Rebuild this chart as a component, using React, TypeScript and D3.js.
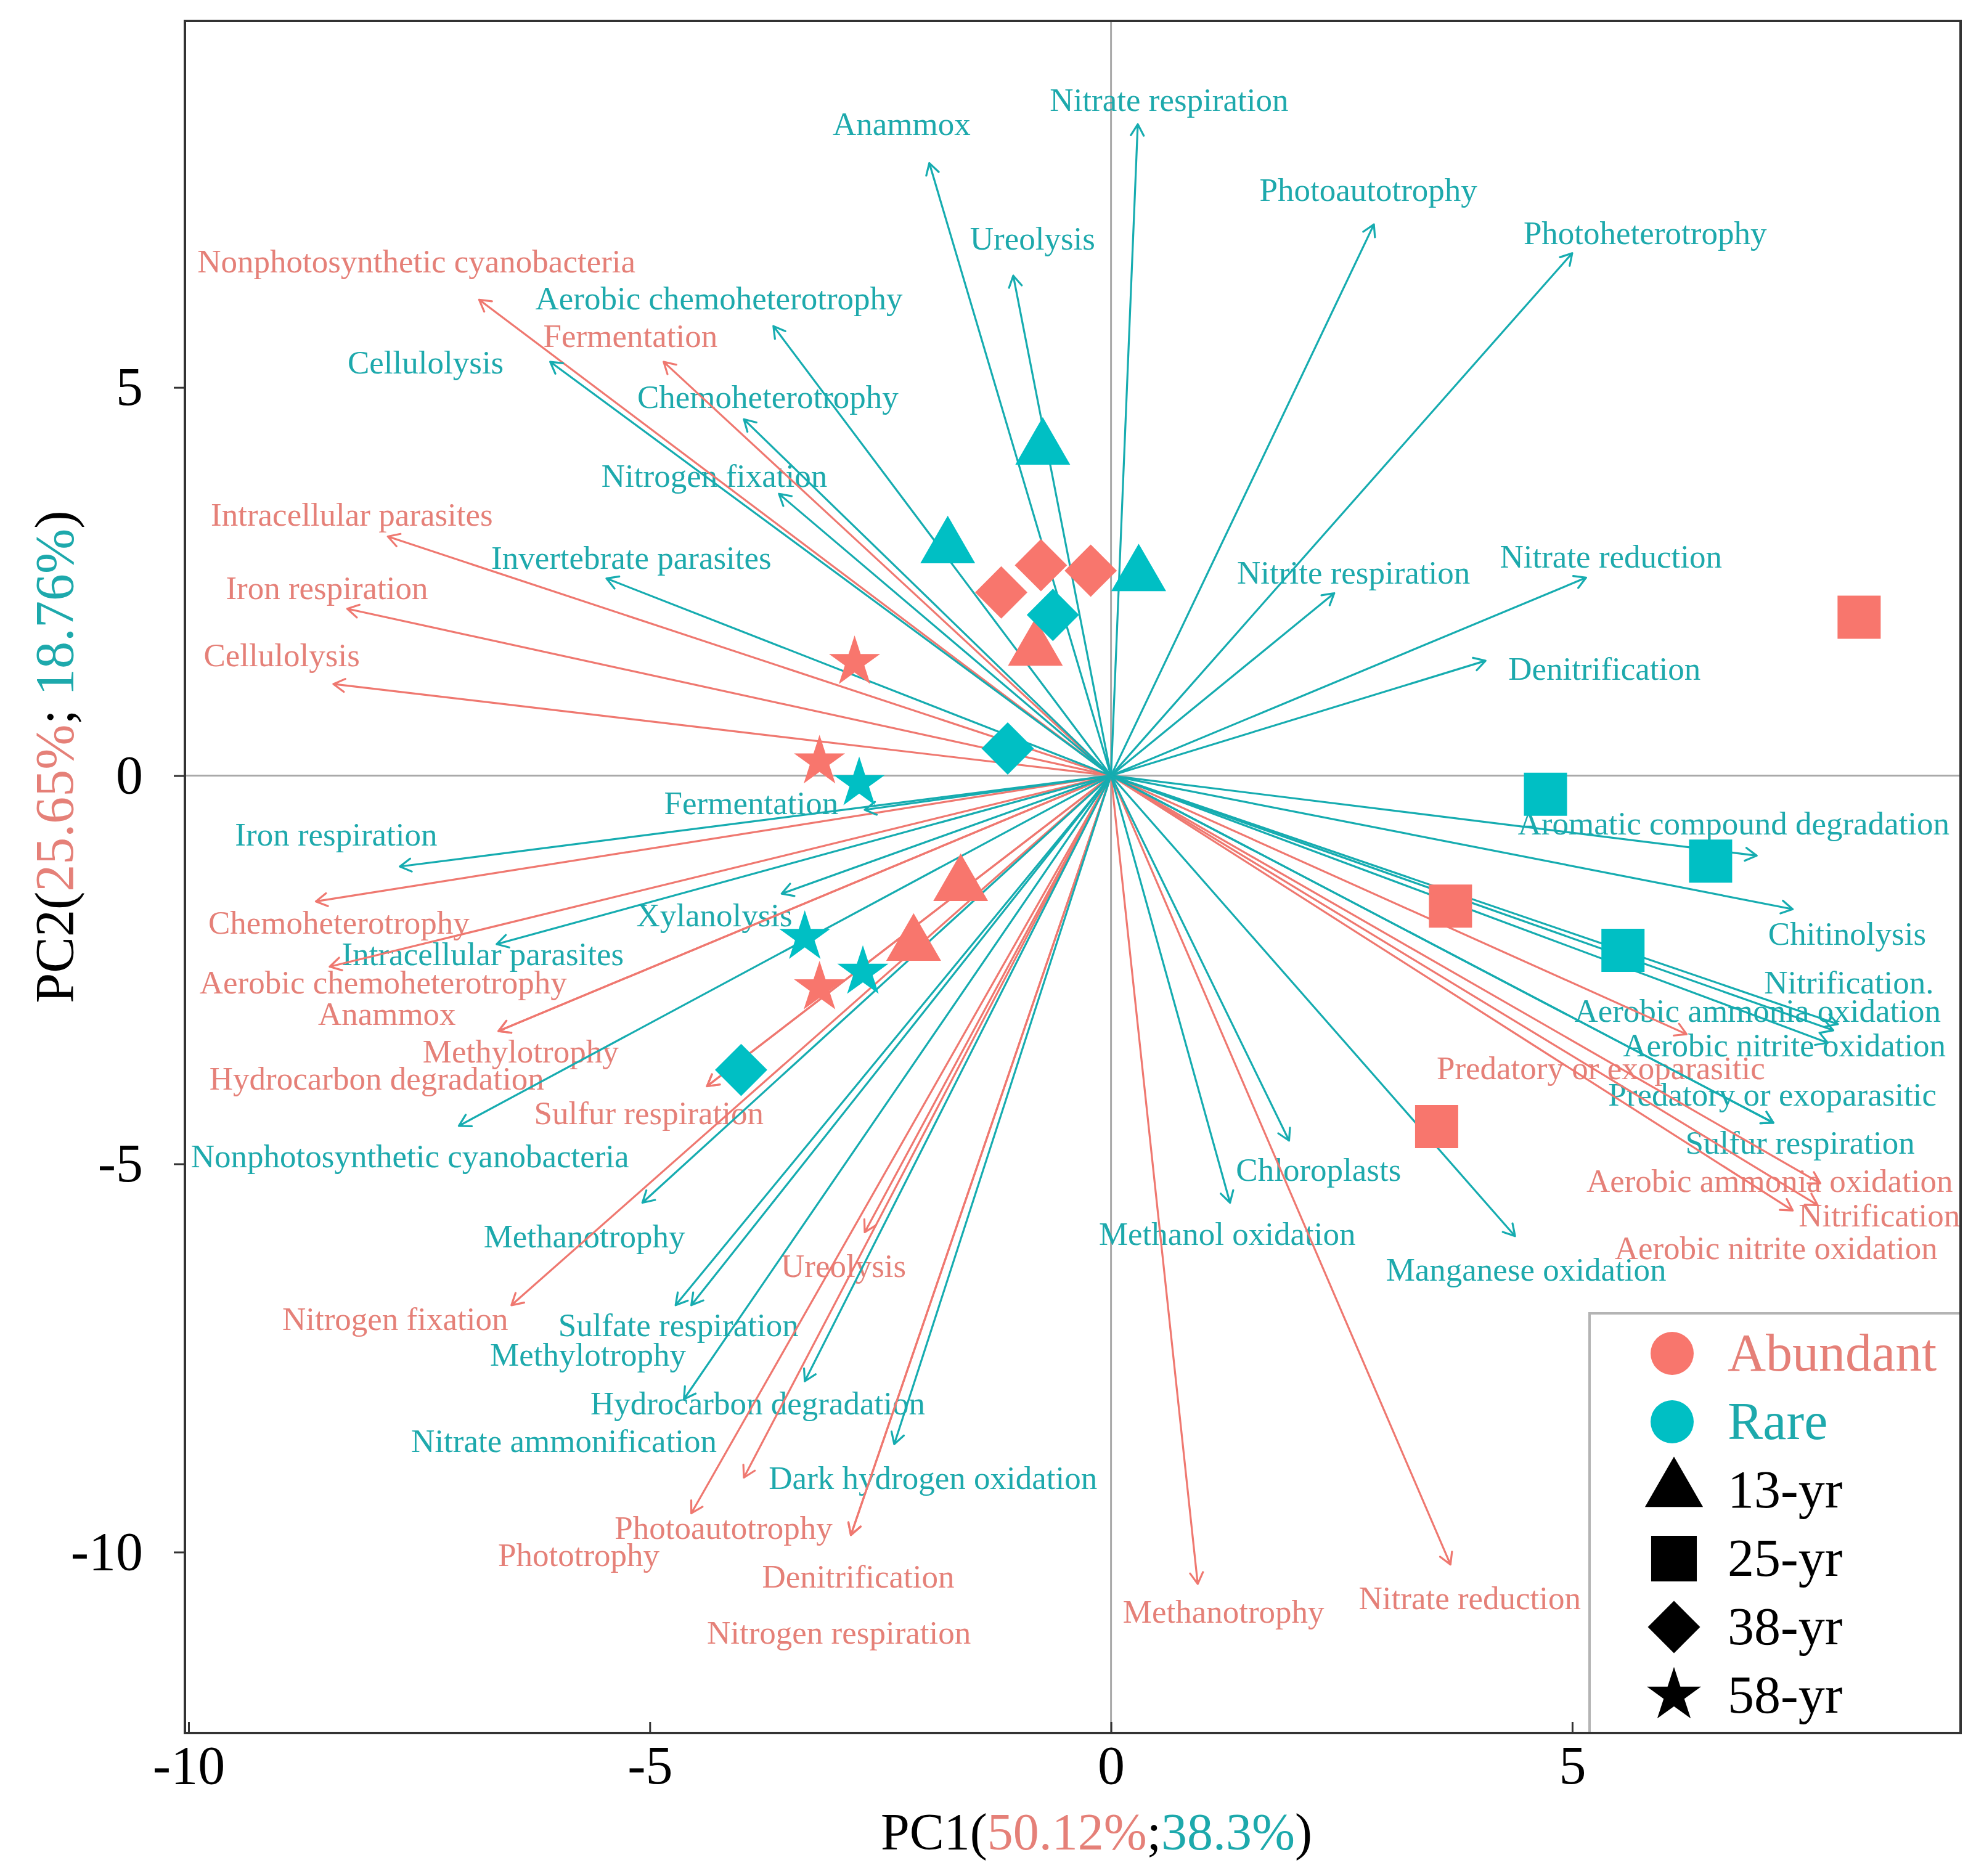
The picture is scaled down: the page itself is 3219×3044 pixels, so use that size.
import React, { useEffect, useRef } from 'react';
import * as d3 from 'd3';

interface FuncVector {
  name: string;
  pc1: number; // arrow tip
  pc2: number;
  labX: number; // label position (data units)
  labY: number;
}

interface Sample {
  group: string;
  age: string;
  pc1: number;
  pc2: number;
}

// Rare community functions (teal arrows)
const rareVectors: FuncVector[] = [
  { name: 'Anammox', pc1: -1.97, pc2: 7.89, labX: -2.27, labY: 8.4 },
  { name: 'Nitrate respiration', pc1: 0.29, pc2: 8.39, labX: 0.63, labY: 8.71 },
  { name: 'Ureolysis', pc1: -1.06, pc2: 6.44, labX: -0.85, labY: 6.92 },
  { name: 'Photoautotrophy', pc1: 2.85, pc2: 7.1, labX: 2.79, labY: 7.55 },
  { name: 'Photoheterotrophy', pc1: 5.0, pc2: 6.73, labX: 5.79, labY: 6.99 },
  { name: 'Aerobic chemoheterotrophy', pc1: -3.66, pc2: 5.79, labX: -4.25, labY: 6.15 },
  { name: 'Cellulolysis', pc1: -6.08, pc2: 5.33, labX: -7.43, labY: 5.33 },
  { name: 'Chemoheterotrophy', pc1: -3.98, pc2: 4.59, labX: -3.72, labY: 4.88 },
  { name: 'Nitrogen fixation', pc1: -3.6, pc2: 3.63, labX: -4.3, labY: 3.87 },
  { name: 'Invertebrate parasites', pc1: -5.47, pc2: 2.54, labX: -5.2, labY: 2.81 },
  { name: 'Nitrite respiration', pc1: 2.42, pc2: 2.35, labX: 2.63, labY: 2.62 },
  { name: 'Nitrate reduction', pc1: 5.15, pc2: 2.55, labX: 5.42, labY: 2.83 },
  { name: 'Denitrification', pc1: 4.06, pc2: 1.48, labX: 5.35, labY: 1.38 },
  { name: 'Fermentation', pc1: -2.67, pc2: -0.44, labX: -3.9, labY: -0.35 },
  { name: 'Iron respiration', pc1: -7.71, pc2: -1.17, labX: -8.4, labY: -0.75 },
  { name: 'Xylanolysis', pc1: -3.57, pc2: -1.52, labX: -4.3, labY: -1.79 },
  { name: 'Intracellular parasites', pc1: -6.66, pc2: -2.17, labX: -6.81, labY: -2.29 },
  { name: 'Nonphotosynthetic cyanobacteria', pc1: -7.07, pc2: -4.51, labX: -7.6, labY: -4.9 },
  { name: 'Methanotrophy', pc1: -5.08, pc2: -5.5, labX: -5.71, labY: -5.93 },
  { name: 'Sulfate respiration', pc1: -4.72, pc2: -6.82, labX: -4.69, labY: -7.07 },
  { name: 'Methylotrophy', pc1: -4.55, pc2: -6.82, labX: -5.67, labY: -7.45 },
  { name: 'Hydrocarbon degradation', pc1: -3.32, pc2: -7.8, labX: -3.83, labY: -8.08 },
  { name: 'Nitrate ammonification', pc1: -4.63, pc2: -8.03, labX: -5.93, labY: -8.56 },
  { name: 'Dark hydrogen oxidation', pc1: -2.35, pc2: -8.61, labX: -1.93, labY: -9.04 },
  { name: 'Chloroplasts', pc1: 1.93, pc2: -4.7, labX: 2.25, labY: -5.07 },
  { name: 'Methanol oxidation', pc1: 1.29, pc2: -5.5, labX: 1.26, labY: -5.9 },
  { name: 'Manganese oxidation', pc1: 4.38, pc2: -5.93, labX: 4.5, labY: -6.36 },
  { name: 'Aromatic compound degradation', pc1: 7.0, pc2: -1.03, labX: 6.75, labY: -0.61 },
  { name: 'Chitinolysis', pc1: 7.39, pc2: -1.72, labX: 7.98, labY: -2.03 },
  { name: 'Nitrification.', pc1: 7.88, pc2: -3.2, labX: 8.0, labY: -2.66 },
  { name: 'Aerobic ammonia oxidation', pc1: 7.83, pc2: -3.28, labX: 7.01, labY: -3.02 },
  { name: 'Aerobic nitrite oxidation', pc1: 7.77, pc2: -3.44, labX: 7.3, labY: -3.47 },
  { name: 'Predatory or exoparasitic', pc1: 7.18, pc2: -4.47, labX: 7.17, labY: -4.1 },
  { name: 'Sulfur respiration', pc1: 7.18, pc2: -4.47, labX: 7.47, labY: -4.72 },
];

// Abundant community functions (red arrows)
const abundantVectors: FuncVector[] = [
  { name: 'Nonphotosynthetic cyanobacteria', pc1: -6.85, pc2: 6.13, labX: -7.53, labY: 6.63 },
  { name: 'Fermentation', pc1: -4.85, pc2: 5.33, labX: -5.21, labY: 5.67 },
  { name: 'Intracellular parasites', pc1: -7.84, pc2: 3.08, labX: -8.23, labY: 3.37 },
  { name: 'Iron respiration', pc1: -8.28, pc2: 2.15, labX: -8.5, labY: 2.42 },
  { name: 'Cellulolysis', pc1: -8.43, pc2: 1.18, labX: -8.99, labY: 1.56 },
  { name: 'Chemoheterotrophy', pc1: -8.62, pc2: -1.62, labX: -8.37, labY: -1.89 },
  { name: 'Aerobic chemoheterotrophy', pc1: -8.47, pc2: -2.46, labX: -7.89, labY: -2.66 },
  { name: 'Anammox', pc1: -6.64, pc2: -3.29, labX: -7.85, labY: -3.06 },
  { name: 'Methylotrophy', pc1: -6.64, pc2: -3.29, labX: -6.4, labY: -3.55 },
  { name: 'Hydrocarbon degradation', pc1: -4.38, pc2: -4.0, labX: -7.96, labY: -3.9 },
  { name: 'Sulfur respiration', pc1: -4.38, pc2: -4.0, labX: -5.01, labY: -4.34 },
  { name: 'Nitrogen fixation', pc1: -6.5, pc2: -6.82, labX: -7.76, labY: -6.99 },
  { name: 'Ureolysis', pc1: -2.67, pc2: -5.88, labX: -2.9, labY: -6.31 },
  { name: 'Photoautotrophy', pc1: -4.55, pc2: -9.5, labX: -4.2, labY: -9.68 },
  { name: 'Phototrophy', pc1: -3.98, pc2: -9.04, labX: -5.77, labY: -10.03 },
  { name: 'Denitrification', pc1: -2.82, pc2: -9.78, labX: -2.74, labY: -10.31 },
  { name: 'Nitrogen respiration', pc1: -2.82, pc2: -9.78, labX: -2.95, labY: -11.03 },
  { name: 'Methanotrophy', pc1: 0.94, pc2: -10.41, labX: 1.22, labY: -10.76 },
  { name: 'Nitrate reduction', pc1: 3.68, pc2: -10.16, labX: 3.89, labY: -10.59 },
  { name: 'Predatory or exoparasitic', pc1: 6.24, pc2: -3.33, labX: 5.31, labY: -3.76 },
  { name: 'Aerobic ammonia oxidation', pc1: 7.69, pc2: -5.25, labX: 7.14, labY: -5.21 },
  { name: 'Nitrification', pc1: 7.39, pc2: -5.6, labX: 8.33, labY: -5.66 },
  { name: 'Aerobic nitrite oxidation', pc1: 7.66, pc2: -5.53, labX: 7.21, labY: -6.08 },
];

const abundantSamples: Sample[] = [
  { group: 'Abundant', age: '13-yr', pc1: -0.82, pc2: 1.62 },
  { group: 'Abundant', age: '13-yr', pc1: -1.63, pc2: -1.41 },
  { group: 'Abundant', age: '13-yr', pc1: -2.14, pc2: -2.18 },
  { group: 'Abundant', age: '25-yr', pc1: 8.11, pc2: 2.04 },
  { group: 'Abundant', age: '25-yr', pc1: 3.68, pc2: -1.68 },
  { group: 'Abundant', age: '25-yr', pc1: 3.53, pc2: -4.52 },
  { group: 'Abundant', age: '38-yr', pc1: -0.76, pc2: 2.71 },
  { group: 'Abundant', age: '38-yr', pc1: -0.22, pc2: 2.64 },
  { group: 'Abundant', age: '38-yr', pc1: -1.19, pc2: 2.36 },
  { group: 'Abundant', age: '58-yr', pc1: -2.78, pc2: 1.46 },
  { group: 'Abundant', age: '58-yr', pc1: -3.16, pc2: 0.18 },
  { group: 'Abundant', age: '58-yr', pc1: -3.16, pc2: -2.73 },
];

const rareSamples: Sample[] = [
  { group: 'Rare', age: '13-yr', pc1: -0.74, pc2: 4.21 },
  { group: 'Rare', age: '13-yr', pc1: -1.77, pc2: 2.94 },
  { group: 'Rare', age: '13-yr', pc1: 0.3, pc2: 2.58 },
  { group: 'Rare', age: '25-yr', pc1: 4.71, pc2: -0.24 },
  { group: 'Rare', age: '25-yr', pc1: 6.5, pc2: -1.1 },
  { group: 'Rare', age: '25-yr', pc1: 5.55, pc2: -2.25 },
  { group: 'Rare', age: '38-yr', pc1: -0.63, pc2: 2.07 },
  { group: 'Rare', age: '38-yr', pc1: -1.12, pc2: 0.35 },
  { group: 'Rare', age: '38-yr', pc1: -4.01, pc2: -3.79 },
  { group: 'Rare', age: '58-yr', pc1: -2.73, pc2: -0.1 },
  { group: 'Rare', age: '58-yr', pc1: -3.32, pc2: -2.08 },
  { group: 'Rare', age: '58-yr', pc1: -2.69, pc2: -2.53 },
];

const groups = ['Abundant', 'Rare'];
const ages = ['13-yr', '25-yr', '38-yr', '58-yr'];
const xTicks = [-10, -5, 0, 5];
const yTicks = [5, 0, -5, -10];

const RED = '#F8766D';
const TEAL = '#00BFC4';
const RED_LINE = '#EF7870';
const TEAL_LINE = '#16ACB0';
const RED_TEXT = '#E58078';
const TEAL_TEXT = '#1DA9AC';
const FONT = "'Liberation Serif', 'Times New Roman', serif";

// shape path for a sample age; scale enlarges it for the legend
const shapePath = (age: string, scale = 1): string => {
  if (age === '13-yr') return d3.symbol(d3.symbolTriangle, 3430 * scale)()!;
  if (age === '25-yr') return d3.symbol(d3.symbolSquare, 4900 * scale)()!;
  if (age === '38-yr') return d3.symbol(d3.symbolSquare, 3600 * scale)()!;
  return d3.symbol(d3.symbolStar, 2134 * scale)()!;
};

const App: React.FC = () => {
  const svgRef = useRef<SVGSVGElement | null>(null);

  useEffect(() => {
    document.body.style.margin = '0';
    if (!svgRef.current) return;

    const width = 3219;
    const height = 3044;
    const left = 300;
    const right = 3181;
    const top = 34;
    const bottom = 2812;

    const svg = d3.select(svgRef.current)
      .attr('width', width)
      .attr('height', height)
      .attr('viewBox', `0 0 ${width} ${height}`)
      .style('display', 'block')
      .style('font-family', FONT);

    svg.selectAll('*').remove();

    const x = d3.scaleLinear().domain([-10.04, 9.21]).range([left, right]);
    const y = d3.scaleLinear().domain([9.72, -12.33]).range([top, bottom]);
    const color = d3.scaleOrdinal<string>().domain(groups).range([RED, TEAL]);

    svg.append('rect').attr('width', width).attr('height', height).attr('fill', '#fff');

    // zero reference lines
    svg.append('line')
      .attr('x1', x(0)).attr('x2', x(0)).attr('y1', top).attr('y2', bottom)
      .attr('stroke', '#A9A9A9').attr('stroke-width', 3);
    svg.append('line')
      .attr('x1', left).attr('x2', right).attr('y1', y(0)).attr('y2', y(0))
      .attr('stroke', '#A9A9A9').attr('stroke-width', 3);

    // labels first, arrows drawn over them
    const drawLabels = (data: FuncVector[], fill: string) => {
      svg.append('g')
        .attr('font-size', 53)
        .attr('fill', fill)
        .attr('text-anchor', 'middle')
        .selectAll('text')
        .data(data)
        .join('text')
        .attr('x', d => x(d.labX))
        .attr('y', d => y(d.labY))
        .attr('dy', '0.35em')
        .text(d => d.name);
    };
    drawLabels(abundantVectors, RED_TEXT);
    drawLabels(rareVectors, TEAL_TEXT);

    const arrowPath = (d: FuncVector) => {
      const x0 = x(0), y0 = y(0), x1 = x(d.pc1), y1 = y(d.pc2);
      const a = Math.atan2(y1 - y0, x1 - x0);
      const head = 21;
      const spread = Math.PI / 6;
      const p = d3.path();
      p.moveTo(x0, y0);
      p.lineTo(x1, y1);
      p.moveTo(x1 - head * Math.cos(a - spread), y1 - head * Math.sin(a - spread));
      p.lineTo(x1, y1);
      p.lineTo(x1 - head * Math.cos(a + spread), y1 - head * Math.sin(a + spread));
      return p.toString();
    };

    const drawArrows = (data: FuncVector[], stroke: string) => {
      svg.append('g')
        .selectAll('path')
        .data(data)
        .join('path')
        .attr('d', arrowPath)
        .attr('fill', 'none')
        .attr('stroke', stroke)
        .attr('stroke-width', 3.2)
        .attr('stroke-linecap', 'round')
        .attr('stroke-linejoin', 'round');
    };
    drawArrows(abundantVectors, RED_LINE);
    drawArrows(rareVectors, TEAL_LINE);

    // sample points
    const drawPoints = (data: Sample[]) => {
      svg.append('g')
        .selectAll('path')
        .data(data)
        .join('path')
        .attr('d', d => shapePath(d.age))
        .attr('transform', d =>
          `translate(${x(d.pc1)},${y(d.pc2)})${d.age === '38-yr' ? ' rotate(45)' : ''}`)
        .attr('fill', d => color(d.group));
    };
    drawPoints(abundantSamples);
    drawPoints(rareSamples);

    // legend
    const legendItems = [...groups, ...ages];
    const ly = d3.scalePoint<string>().domain(legendItems).range([2196, 2751]);
    const legend = svg.append('g');
    legend.append('rect')
      .attr('x', 2579).attr('y', 2131)
      .attr('width', right - 2579).attr('height', bottom - 2131)
      .attr('fill', '#fff').attr('stroke', '#B4B4B4').attr('stroke-width', 4);
    groups.forEach(g => {
      legend.append('circle')
        .attr('cx', 2713).attr('cy', ly(g)!).attr('r', 35)
        .attr('fill', color(g));
      legend.append('text')
        .attr('x', 2803).attr('y', ly(g)!).attr('dy', '0.33em')
        .attr('font-size', 86)
        .attr('fill', g === 'Abundant' ? RED_TEXT : TEAL_TEXT)
        .text(g);
    });
    ages.forEach(a => {
      legend.append('path')
        .attr('d', shapePath(a, a === '38-yr' ? 1.0 : 1.12))
        .attr('transform', `translate(2716,${ly(a)})${a === '38-yr' ? ' rotate(45)' : ''}`)
        .attr('fill', '#000');
      legend.append('text')
        .attr('x', 2803).attr('y', ly(a)!).attr('dy', '0.33em')
        .attr('font-size', 86)
        .attr('fill', '#000')
        .text(a);
    });

    // panel border
    svg.append('rect')
      .attr('x', left).attr('y', top)
      .attr('width', right - left).attr('height', bottom - top)
      .attr('fill', 'none').attr('stroke', '#333').attr('stroke-width', 4);

    // axes
    svg.append('g')
      .attr('transform', `translate(${left},0)`)
      .call(d3.axisLeft(y).tickValues(yTicks).tickSize(18).tickPadding(50).tickFormat(d3.format('d')))
      .call(g => g.select('.domain').remove())
      .call(g => g.selectAll('.tick line').attr('stroke', '#333').attr('stroke-width', 3))
      .call(g => g.selectAll('.tick text')
        .attr('font-size', 88).attr('font-family', FONT).attr('fill', '#000'));

    svg.append('g')
      .attr('transform', `translate(0,${bottom})`)
      .call(d3.axisBottom(x).tickValues(xTicks).tickSizeInner(-18).tickSizeOuter(0).tickPadding(20).tickFormat(d3.format('d')))
      .call(g => g.select('.domain').remove())
      .call(g => g.selectAll('.tick line').attr('stroke', '#333').attr('stroke-width', 3))
      .call(g => g.selectAll('.tick text')
        .attr('font-size', 88).attr('font-family', FONT).attr('fill', '#000'));

    // plain hyphen instead of the unicode minus, like the original
    svg.selectAll('.tick text').text(function () {
      return (d3.select(this).text() || '').replace('\u2212', '-');
    });

    // axis titles
    const xt = svg.append('text')
      .attr('x', 1779).attr('y', 3001)
      .attr('text-anchor', 'middle')
      .attr('font-size', 84);
    xt.append('tspan').attr('fill', '#000').text('PC1(');
    xt.append('tspan').attr('fill', RED_TEXT).text('50.12%');
    xt.append('tspan').attr('fill', '#000').text(';');
    xt.append('tspan').attr('fill', TEAL_TEXT).text('38.3%');
    xt.append('tspan').attr('fill', '#000').text(')');

    const yt = svg.append('text')
      .attr('transform', 'translate(118,1228) rotate(-90)')
      .attr('text-anchor', 'middle')
      .attr('font-size', 88);
    yt.append('tspan').attr('fill', '#000').text('PC2(');
    yt.append('tspan').attr('fill', RED_TEXT).text('25.65%');
    yt.append('tspan').attr('fill', '#000').text('; ');
    yt.append('tspan').attr('fill', TEAL_TEXT).text('18.76%');
    yt.append('tspan').attr('fill', '#000').text(')');
  }, []);

  return <svg ref={svgRef}></svg>;
};

export default App;
